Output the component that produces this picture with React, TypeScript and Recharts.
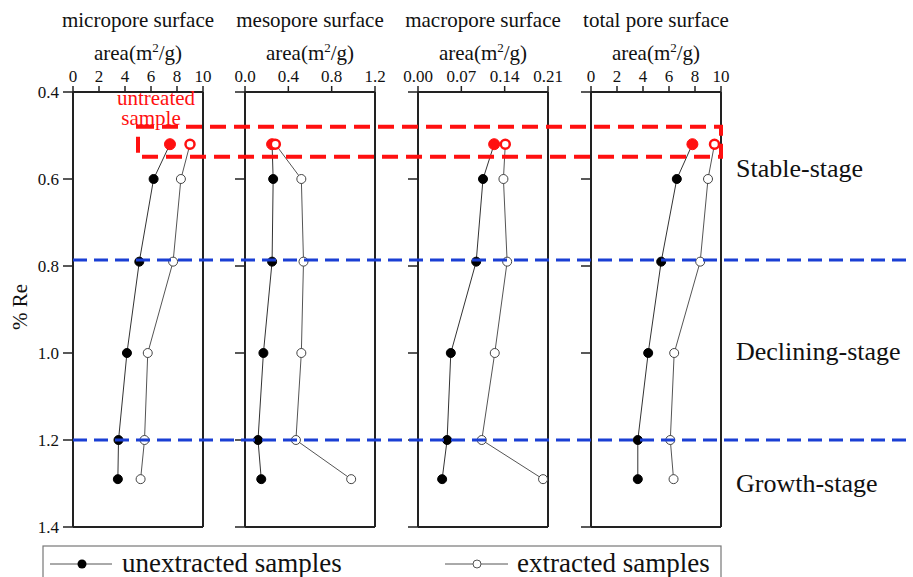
import React from "react";
import { ScatterChart, Scatter, XAxis, YAxis, ReferenceLine } from "recharts";

// %Re of each sample; the first one is the untreated sample (drawn in red)
const reValues = [0.52, 0.6, 0.79, 1.0, 1.2, 1.29];

const microUnextracted = [7.46, 6.2, 5.1, 4.15, 3.5, 3.45];
const microExtracted = [9.0, 8.3, 7.7, 5.75, 5.5, 5.2];
const mesoUnextracted = [0.25, 0.26, 0.25, 0.17, 0.12, 0.15];
const mesoExtracted = [0.28, 0.52, 0.54, 0.52, 0.47, 0.98];
const macroUnextracted = [0.123, 0.105, 0.094, 0.053, 0.047, 0.039];
const macroExtracted = [0.141, 0.138, 0.144, 0.124, 0.103, 0.202];
const totalUnextracted = [7.8, 6.6, 5.4, 4.4, 3.6, 3.6];
const totalExtracted = [9.5, 9.0, 8.4, 6.4, 6.1, 6.35];

const panelTitles = ["micropore surface", "mesopore surface", "macropore surface", "total pore surface"];
const microTicks = [0, 2, 4, 6, 8, 10];
const mesoTicks = [0, 0.4, 0.8, 1.2];
const macroTicks = [0, 0.07, 0.14, 0.21];
const totalTicks = [0, 2, 4, 6, 8, 10];
const reTicks = [0.4, 0.6, 0.8, 1.0, 1.2, 1.4];

const stageBounds = [0.786, 1.2];
const stageLabels = ["Stable-stage", "Declining-stage", "Growth-stage"];
const stageLabelRe = [0.595, 1.015, 1.32];
const legendLabels = ["unextracted samples", "extracted samples"];

// untreated sample box, in %Re and in micropore / total pore units
const boxRe = [0.48, 0.549];
const boxMicroLeft = 5.0;
const boxTotalRight = 10;

const FONT = "'Liberation Serif', 'Times New Roman', serif";
const PLOT_TOP = 92;
const PLOT_H = 435;
const PANEL_W = 130;
const AXIS_W = 60;
const RIGHT_PAD = 24;
const panelLefts = [73, 245, 418, 591];

const panels = [
  { ticks: microTicks, fmt: (v: number) => `${v}`, unext: microUnextracted, ext: microExtracted },
  { ticks: mesoTicks, fmt: (v: number) => v.toFixed(1), unext: mesoUnextracted, ext: mesoExtracted },
  { ticks: macroTicks, fmt: (v: number) => v.toFixed(2), unext: macroUnextracted, ext: macroExtracted },
  { ticks: totalTicks, fmt: (v: number) => `${v}`, unext: totalUnextracted, ext: totalExtracted },
];

const reToY = (v: number) => PLOT_TOP + ((v - 0.4) / 1.0) * PLOT_H;
const valToX = (i: number, v: number) => {
  const t = panels[i].ticks;
  return panelLefts[i] + ((v - t[0]) / (t[t.length - 1] - t[0])) * PANEL_W;
};

const FilledDot = (props: any) => {
  const { cx, cy, payload } = props;
  const red = payload && payload.untreated;
  const c = red ? "#ff1010" : "#000";
  return <circle cx={cx} cy={cy} r={red ? 5.5 : 4.5} fill={c} stroke={c} strokeWidth={1} />;
};

const HollowDot = (props: any) => {
  const { cx, cy, payload } = props;
  const red = payload && payload.untreated;
  return (
    <circle
      cx={cx}
      cy={cy}
      r={4.5}
      fill="#fff"
      stroke={red ? "#ff1010" : "#444"}
      strokeWidth={red ? 2.5 : 1}
    />
  );
};

function Panel({ index }: { index: number }) {
  const p = panels[index];
  const domain = [p.ticks[0], p.ticks[p.ticks.length - 1]];
  const unextData = reValues.map((re, i) => ({ re, x: p.unext[i], untreated: i === 0 }));
  const extData = reValues.map((re, i) => ({ re, x: p.ext[i], untreated: i === 0 }));
  const axisStyle = { fontFamily: FONT, fontSize: 17, fill: "#111" };

  return (
    <div style={{ position: "absolute", left: panelLefts[index] - AXIS_W, top: 0 }}>
      <ScatterChart
        width={AXIS_W + PANEL_W + RIGHT_PAD}
        height={577}
        margin={{ top: PLOT_TOP - 30, right: RIGHT_PAD, bottom: 577 - PLOT_TOP - PLOT_H, left: 0 }}
      >
        <XAxis
          type="number"
          dataKey="x"
          orientation="top"
          height={30}
          domain={domain}
          ticks={p.ticks}
          interval={0}
          tickFormatter={p.fmt}
          tick={axisStyle}
          tickSize={6}
          tickMargin={4}
          axisLine={{ stroke: "#222", strokeWidth: 2 }}
          tickLine={{ stroke: "#222", strokeWidth: 1.5 }}
          allowDataOverflow
        />
        <YAxis
          type="number"
          dataKey="re"
          width={AXIS_W}
          reversed
          domain={[0.4, 1.4]}
          ticks={reTicks}
          interval={0}
          tickFormatter={(v: number) => (index === 0 ? v.toFixed(1) : "")}
          tick={axisStyle}
          tickSize={10}
          tickMargin={4}
          axisLine={{ stroke: "#222", strokeWidth: 2 }}
          tickLine={{ stroke: "#222", strokeWidth: 1.5 }}
        />
        <ReferenceLine x={domain[1]} stroke="#222" strokeWidth={2} ifOverflow="extendDomain" />
        <ReferenceLine y={1.4} stroke="#222" strokeWidth={2} ifOverflow="extendDomain" />
        <Scatter
          data={unextData}
          line={{ stroke: "#333", strokeWidth: 1 }}
          shape={FilledDot}
          isAnimationActive={false}
        />
        <Scatter
          data={extData}
          line={{ stroke: "#555", strokeWidth: 1 }}
          shape={HollowDot}
          isAnimationActive={false}
        />
      </ScatterChart>
    </div>
  );
}

export default function App() {
  const boxLeft = valToX(0, boxMicroLeft);
  const boxRight = valToX(3, boxTotalRight);
  const boxTop = reToY(boxRe[0]);
  const boxBottom = reToY(boxRe[1]);

  return (
    <div
      style={{
        position: "absolute",
        left: 0,
        top: 0,
        width: 913,
        height: 577,
        overflow: "hidden",
        background: "#fff",
        fontFamily: FONT,
      }}
    >
      {panels.map((_, i) => (
        <Panel key={i} index={i} />
      ))}
      <svg
        width={913}
        height={577}
        style={{ position: "absolute", left: 0, top: 0, pointerEvents: "none" }}
        fontFamily={FONT}
      >
        {panelTitles.map((t, i) => {
          const cx = panelLefts[i] + PANEL_W / 2;
          return (
            <g key={t}>
              <text x={cx} y={27} textAnchor="middle" fontSize={21} fill="#111">
                {t}
              </text>
              <text x={cx} y={60} textAnchor="middle" fontSize={21} fill="#111">
                area(m
                <tspan dy={-8} fontSize={13}>
                  2
                </tspan>
                <tspan dy={8}>/g)</tspan>
              </text>
            </g>
          );
        })}

        <text
          x={27}
          y={307}
          transform="rotate(-90 27 307)"
          textAnchor="middle"
          fontSize={21}
          fill="#111"
        >
          % Re
        </text>

        {stageBounds.map((re) => (
          <line
            key={re}
            x1={panelLefts[0]}
            x2={913}
            y1={reToY(re)}
            y2={reToY(re)}
            stroke="#1a3fd4"
            strokeWidth={3}
            strokeDasharray="14 7"
          />
        ))}
        {stageLabels.map((s, i) => (
          <text key={s} x={736} y={reToY(stageLabelRe[i])} fontSize={26} fill="#111">
            {s}
          </text>
        ))}

        <rect
          x={boxLeft}
          y={boxTop}
          width={boxRight - boxLeft}
          height={boxBottom - boxTop}
          fill="none"
          stroke="#ff1010"
          strokeWidth={4}
          strokeDasharray="16 8"
        />
        <text x={156} y={105} textAnchor="middle" fontSize={21} fill="#ff1010">
          untreated
        </text>
        <text x={151} y={125} textAnchor="middle" fontSize={21} fill="#ff1010">
          sample
        </text>

        <rect x={43} y={546} width={678} height={45} fill="#fff" stroke="#777" strokeWidth={1.2} />
        <line x1={50} x2={112} y1={564} y2={564} stroke="#555" strokeWidth={1} />
        <circle cx={82} cy={564} r={4.5} fill="#000" />
        <text x={122} y={572} fontSize={27} fill="#111">
          {legendLabels[0]}
        </text>
        <line x1={445} x2={508} y1={564} y2={564} stroke="#555" strokeWidth={1} />
        <circle cx={477} cy={564} r={4} fill="#fff" stroke="#555" strokeWidth={1} />
        <text x={517} y={572} fontSize={27} fill="#111">
          {legendLabels[1]}
        </text>
      </svg>
    </div>
  );
}
